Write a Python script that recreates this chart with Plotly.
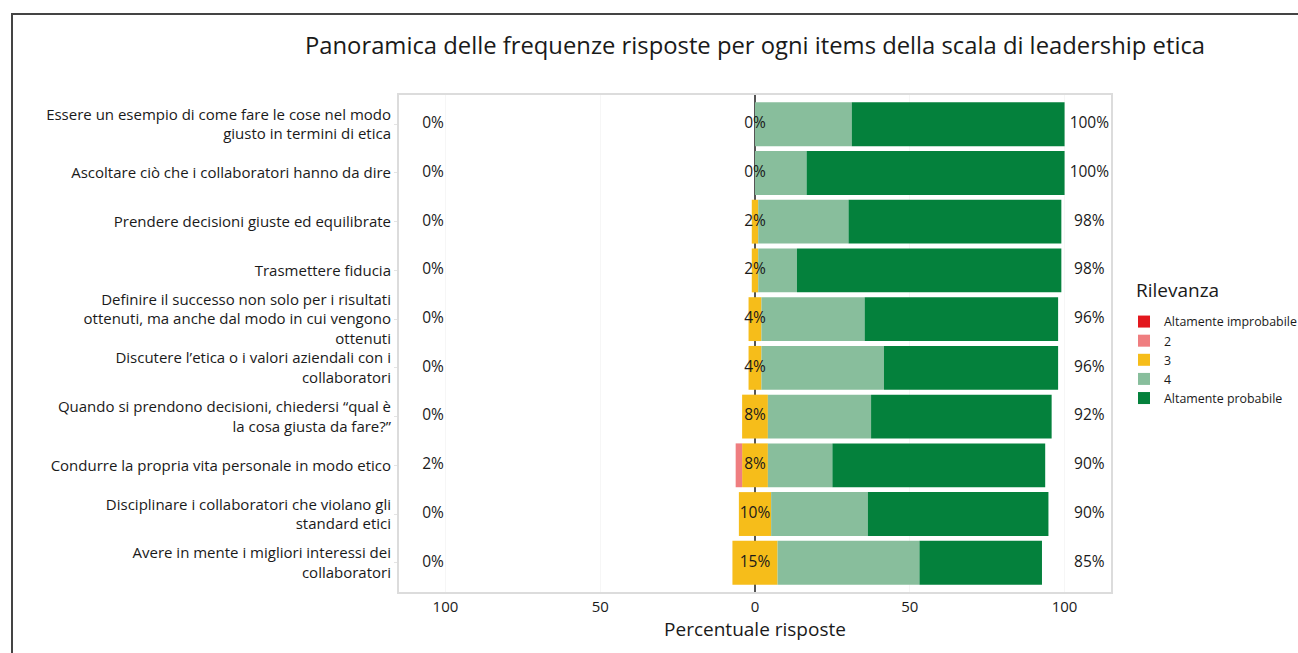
import plotly.graph_objects as go

# Items of the ethical-leadership scale (top to bottom)
items = [
    "Essere un esempio di come fare le cose nel modo<br>giusto in termini di etica",
    "Ascoltare ciò che i collaboratori hanno da dire",
    "Prendere decisioni giuste ed equilibrate",
    "Trasmettere fiducia",
    "Definire il successo non solo per i risultati<br>ottenuti, ma anche dal modo in cui vengono<br>ottenuti",
    "Discutere l’etica o i valori aziendali con i<br>collaboratori",
    "Quando si prendono decisioni, chiedersi “qual è<br>la cosa giusta da fare?”",
    "Condurre la propria vita personale in modo etico",
    "Disciplinare i collaboratori che violano gli<br>standard etici",
    "Avere in mente i migliori interessi dei<br>collaboratori",
]

# Percentage of answers per response level
p1 = [0, 0, 0, 0, 0, 0, 0, 0, 0, 0]
p2 = [0, 0, 0, 0, 0, 0, 0, 2.08, 0, 0]
p3 = [0, 0, 2.08, 2.08, 4.17, 4.17, 8.33, 8.33, 10.42, 14.58]
p4 = [31.25, 16.67, 29.17, 12.50, 33.33, 39.58, 33.33, 20.83, 31.25, 45.83]
p5 = [68.75, 83.33, 68.75, 85.42, 62.50, 56.25, 58.33, 68.75, 58.33, 39.58]

level_names = ["Altamente improbabile", "2", "3", "4", "Altamente probabile"]
level_colors = ["#E3171D", "#EF7E80", "#F6BD1A", "#88BE9C", "#04813C"]

tick_vals = [-100, -50, 0, 50, 100]
tick_text = ["100", "50", "0", "50", "100"]

FONT = "Open Sans"
TXT = "#1a1a1a"

low = [a + b for a, b in zip(p1, p2)]
high = [a + b for a, b in zip(p4, p5)]
half3 = [v / 2 for v in p3]

fig = go.Figure()

def add_bar(x, idx, show, rank):
    fig.add_trace(go.Bar(
        y=items, x=x, orientation="h", width=0.9,
        name=level_names[idx], marker=dict(color=level_colors[idx], line=dict(width=0)),
        legendgroup=level_names[idx], showlegend=show, legendrank=rank,
        hoverinfo="skip",
    ))

# negative side: neutral half closest to zero, then 2, then 1
add_bar([-v for v in half3], 2, False, 3)
add_bar([-v for v in p2], 1, True, 2)
add_bar([-v for v in p1], 0, True, 1)
# positive side
add_bar(half3, 2, True, 3)
add_bar(p4, 3, True, 4)
add_bar(p5, 4, True, 5)

def add_labels(xpos, values):
    fig.add_trace(go.Scatter(
        y=items, x=[xpos] * len(items), mode="text",
        text=[f"{round(v)}%" for v in values],
        textposition="middle center",
        textfont=dict(family=FONT, size=15.5, color=TXT),
        showlegend=False, hoverinfo="skip", cliponaxis=False,
    ))

add_labels(-104, low)
add_labels(0, p3)
add_labels(108, high)

fig.update_layout(
    width=1298, height=653,
    barmode="relative", bargap=0.1,
    paper_bgcolor="white", plot_bgcolor="white",
    margin=dict(l=399, r=187, t=95, b=61, autoexpand=False),
    font=dict(family=FONT, color=TXT),
    title=dict(
        text="Panoramica delle frequenze risposte per ogni items della scala di leadership etica",
        x=0.5, xref="paper", xanchor="center",
        y=1 - 46 / 653, yref="container", yanchor="middle",
        font=dict(family=FONT, size=23.8, color=TXT),
    ),
    xaxis=dict(
        range=[-115, 115], tickvals=tick_vals, ticktext=tick_text,
        tickfont=dict(family=FONT, size=15, color=TXT),
        title=dict(text="Percentuale risposte", font=dict(family=FONT, size=19, color=TXT), standoff=1),
        showgrid=True, gridcolor="#F6F6F6", gridwidth=1,
        zeroline=True, zerolinecolor="#555555", zerolinewidth=1.5,
        showline=True, mirror=True, linecolor="#DCDCDC", linewidth=2,
        ticks="",
    ),
    yaxis=dict(
        categoryorder="array", categoryarray=items,
        range=[9.6, -0.6],
        tickfont=dict(family=FONT, size=15, color=TXT),
        showgrid=False, zeroline=False,
        showline=True, mirror=True, linecolor="#DCDCDC", linewidth=2,
        ticks="outside", ticklen=3, tickcolor="#E4E4E4",
    ),
    legend=dict(
        font=dict(family=FONT, size=12.4, color=TXT),
        x=(1124 - 399) / 712, xanchor="left",
        y=(592 - 307) / 497, yanchor="top",
        traceorder="normal", bgcolor="rgba(0,0,0,0)",
    ),
    annotations=[dict(
        text="Rilevanza", xref="paper", yref="paper",
        x=(1134 - 399) / 712, y=(592 - 290) / 497,
        xanchor="left", yanchor="middle", showarrow=False,
        font=dict(family=FONT, size=19, color=TXT),
    )],
    shapes=[dict(
        type="rect", xref="paper", yref="paper",
        x0=(12 - 399) / 712, x1=(1320 - 399) / 712,
        y0=(592 - 680) / 497, y1=(592 - 14) / 497,
        line=dict(color="#444444", width=2), fillcolor="rgba(0,0,0,0)", layer="below",
    )],
)

fig.write_html("out.html")
